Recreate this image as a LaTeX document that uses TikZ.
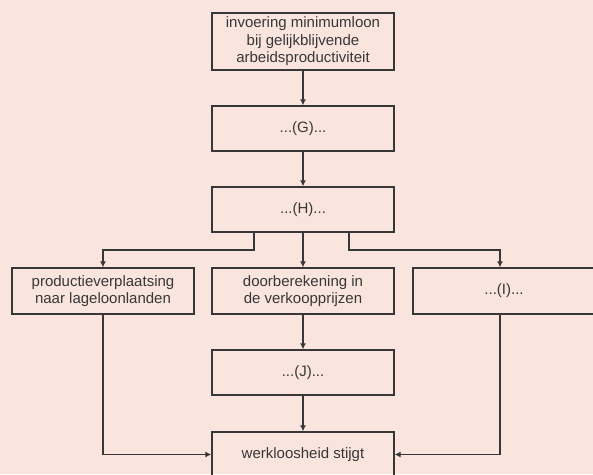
\documentclass[tikz,border=0pt]{standalone}
\usepackage{fontspec}
\setmainfont{Liberation Sans}
\usetikzlibrary{arrows.meta, positioning}
\definecolor{bgpink}{RGB}{250,229,222}
\definecolor{ink}{RGB}{55,55,55}

\begin{document}
\begin{tikzpicture}[
        x=1pt, y=-1pt,
        box/.style={draw=ink, line width=1.3pt, text=ink, minimum width=182pt, minimum height=45pt, align=center, inner sep=2pt, font=\fontsize{15}{17.5}\selectfont},
        arr/.style={draw=ink, line width=1.2pt, -{Latex[length=6pt, width=6pt]}}
        ]
        \fill[bgpink] (0,0) rectangle (593,474);
        \useasboundingbox (0,0) rectangle (593,474);

        \node[box, minimum height=57pt] (start) at (303, 41.5) {invoering minimumloon\\bij gelijkblijvende\\arbeidsproductiviteit};
        \node[box] (g) at (303, 128.5) {...(G)...};
        \node[box] (h) at (303, 209.5) {...(H)...};

        % three effects
        \node[box, minimum height=46pt] (reloc) at (103, 291) {productieverplaatsing\\naar lageloonlanden};
        \node[box, minimum height=46pt] (prices) at (303, 291) {doorberekening in\\de verkoopprijzen};
        \node[box, minimum height=46pt] (i) at (504, 291) {...(I)...};

        \node[box] (j) at (303, 372.5) {...(J)...};
        \node[box] (unemp) at (303, 454.5) {werkloosheid stijgt};

        \draw[arr] (start) -- (g);
        \draw[arr] (g) -- (h);
        \draw[arr] (h) -- (prices);
        \draw[arr] (prices) -- (j);
        \draw[arr] (j) -- (unemp);

        % branches
        \coordinate (splitL) at (254, 250);
        \coordinate (splitR) at (349, 250);
        \coordinate (colR) at (500, 0);
        \draw[arr] (splitL |- h.south) -- (splitL) -| (reloc.north);
        \draw[arr] (splitR |- h.south) -- (splitR) -| (colR |- i.north);

        \draw[arr] (reloc.south) |- (unemp.west);
        \draw[arr] (colR |- i.south) |- (unemp.east);
    \end{tikzpicture}
\end{document}
